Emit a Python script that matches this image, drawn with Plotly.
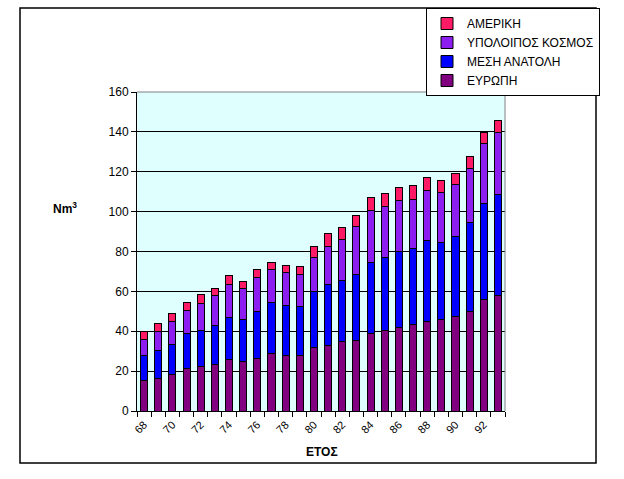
import plotly.graph_objects as go

years = list(range(68, 94))
tick_years = list(range(68, 93, 2))
tick_labels = [str(y) for y in tick_years]

europe = [15.2, 16.4, 18.2, 21.2, 22.3, 23.3, 25.8, 24.8, 26.3, 28.8, 27.6, 27.8, 31.8,
          32.8, 35.1, 35.6, 38.8, 40.3, 42.0, 43.5, 44.8, 45.8, 47.5, 49.8, 55.9, 57.9]
middle_east = [12.4, 14.1, 15.3, 17.5, 17.9, 19.7, 21.2, 21.2, 23.7, 25.8, 25.3, 24.6, 27.9,
               30.5, 30.5, 33.0, 35.8, 36.9, 37.8, 37.8, 40.5, 38.9, 40.2, 44.6, 48.4, 50.5]
rest_world = [8.4, 9.3, 11.3, 11.8, 13.7, 15.1, 16.6, 15.4, 16.9, 16.5, 16.5, 16.0, 17.3,
              19.4, 20.6, 23.9, 26.0, 25.4, 26.0, 25.0, 25.5, 25.1, 25.8, 27.4, 30.1, 31.3]
america = [3.8, 3.9, 4.2, 4.1, 4.3, 3.5, 4.2, 3.7, 3.9, 3.5, 3.7, 4.2, 5.7,
           6.5, 6.0, 5.7, 6.7, 6.7, 6.5, 6.7, 6.5, 6.0, 5.6, 6.1, 5.3, 6.2]

series = [
    ("ΕΥΡΩΠΗ", europe, "#800080"),
    ("ΜΕΣΗ ΑΝΑΤΟΛΗ", middle_east, "#0000FF"),
    ("ΥΠΟΛΟΙΠΟΣ ΚΟΣΜΟΣ", rest_world, "#8C1EF0"),
    ("ΑΜΕΡΙΚΗ", america, "#FF1A66"),
]

font = "Liberation Sans, Arial, sans-serif"
fig = go.Figure()
for name, vals, col in series:
    fig.add_trace(go.Bar(x=years, y=vals, name=name, width=0.5,
                         marker=dict(color=col, line=dict(color="black", width=1))))

W, H = 624, 479
L, R, T, B = 137, 505, 92, 411
pw, ph = R - L, B - T

def px(x):
    return (x - L) / pw

def py(y):
    return (B - y) / ph

boundaries = [y - 0.5 for y in years] + [years[-1] + 0.5]

fig.update_layout(
    width=W, height=H, barmode="stack",
    margin=dict(l=L, r=W - R, t=T, b=H - B, autoexpand=False),
    paper_bgcolor="white", plot_bgcolor="#DFFFFF",
    font=dict(family=font, size=12, color="black"),
    showlegend=True,
    legend=dict(x=px(426), y=py(8), xanchor="left", yanchor="top",
                traceorder="reversed", bgcolor="white", bordercolor="black",
                borderwidth=1, font=dict(size=12, family=font),
                itemwidth=30, tracegroupgap=0),
    xaxis=dict(tickmode="array", tickvals=tick_years, ticktext=tick_labels,
               ticks="outside", ticklen=2, tickcolor="rgba(0,0,0,0)",
               minor=dict(tickmode="array", tickvals=boundaries, ticks="outside",
                          ticklen=5, tickcolor="black", showgrid=False),
               tickangle=-45, showline=True, linecolor="black", linewidth=1,
               showgrid=False, zeroline=False, tickfont=dict(size=11),
               range=[67.5, 93.5]),
    yaxis=dict(range=[0, 160], dtick=20, ticks="outside", ticklen=5, tickcolor="black",
               showline=True, linecolor="black", linewidth=1,
               showgrid=True, gridcolor="black", gridwidth=1,
               zeroline=False, tickfont=dict(size=12)),
    shapes=[
        dict(type="rect", xref="paper", yref="paper", x0=px(20), x1=px(596),
             y0=py(463), y1=py(8), line=dict(color="black", width=1.5)),
        dict(type="line", xref="paper", yref="paper", x0=0, x1=1, y0=1, y1=1,
             line=dict(color="#808080", width=1)),
        dict(type="line", xref="paper", yref="paper", x0=1, x1=1, y0=0, y1=1,
             line=dict(color="#808080", width=1)),
    ],
    annotations=[
        dict(text="<b>Nm<sup>3</sup></b>", xref="paper", yref="paper",
             x=px(65), y=py(208), showarrow=False, font=dict(size=12, family=font),
             xanchor="center", yanchor="middle"),
        dict(text="<b>ΕΤΟΣ</b>", xref="paper", yref="paper",
             x=px(322), y=py(452), showarrow=False, font=dict(size=12, family=font),
             xanchor="center", yanchor="middle"),
    ],
)

fig.write_html("out.html")
